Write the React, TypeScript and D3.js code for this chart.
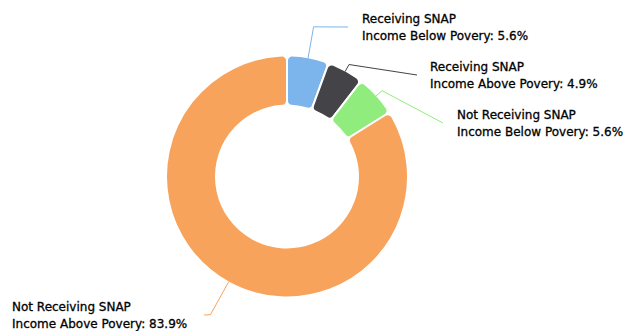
import * as d3 from 'd3';
import { useEffect, useRef } from 'react';

const snapStatus = ['Receiving SNAP', 'Receiving SNAP', 'Not Receiving SNAP', 'Not Receiving SNAP'];
const incomeGroup = ['Income Below Povery', 'Income Above Povery', 'Income Below Povery', 'Income Above Povery'];
const shares = [5.6, 4.9, 5.6, 83.9];
const sliceColors = ['#7cb5ec', '#434348', '#90ed7d', '#f7a35c'];

// label placement: radial length of first connector segment, end of connector, text x
const labelLayout = [
  { kink: 32, end: [348, 27], textX: 362 },
  { kink: 8, end: [417, 75], textX: 430 },
  { kink: 8, end: [443, 123], textX: 457 },
  { kink: 38, end: [204, 315], textX: 12 },
];

interface Slice {
  status: string;
  income: string;
  value: number;
  color: string;
}

const slices: Slice[] = shares.map((v, i) => ({
  status: snapStatus[i],
  income: incomeGroup[i],
  value: v,
  color: sliceColors[i],
}));

const App = () => {
  const svgRef = useRef<SVGSVGElement | null>(null);

  useEffect(() => {
    if (!svgRef.current) return;

    const width = 626;
    const height = 331;
    const cx = 287;
    const cy = 176.5;
    const outer = 121;
    const inner = 71;

    const svg = d3.select(svgRef.current)
      .html('')
      .attr('width', width)
      .attr('height', height);

    const g = svg.append('g')
      .attr('transform', `translate(${cx},${cy})`);

    const pie = d3.pie<Slice>()
      .sort(null)
      .value(d => d.value);

    const arc = d3.arc<d3.PieArcDatum<Slice>>()
      .innerRadius(inner)
      .outerRadius(outer)
      .cornerRadius(5);

    const arcs = pie(slices);

    g.selectAll('path.slice')
      .data(arcs)
      .enter().append('path')
      .attr('class', 'slice')
      .attr('d', arc)
      .attr('fill', d => d.data.color)
      .attr('stroke', '#fff')
      .attr('stroke-width', 2)
      .attr('stroke-linejoin', 'round');

    // connectors + labels
    const pointAt = (angle: number, r: number) => [r * Math.sin(angle), -r * Math.cos(angle)];

    arcs.forEach((d, i) => {
      const lay = labelLayout[i];
      const mid = (d.startAngle + d.endAngle) / 2;
      const start = pointAt(mid, outer - 1);
      const kink = pointAt(mid, outer - 1 + lay.kink);
      const end = [lay.end[0] - cx, lay.end[1] - cy];

      g.append('polyline')
        .attr('points', [start, kink, end].map(p => p.join(',')).join(' '))
        .attr('fill', 'none')
        .attr('stroke', d.data.color)
        .attr('stroke-width', 1);

      const text = svg.append('text')
        .attr('x', lay.textX)
        .attr('y', lay.end[1] - 4)
        .attr('fill', '#000')
        .attr('stroke', '#000')
        .attr('stroke-width', 0.3)
        .style('font-family', '"DejaVu Sans", sans-serif')
        .style('font-size', '12px');

      text.append('tspan')
        .attr('x', lay.textX)
        .text(d.data.status);

      text.append('tspan')
        .attr('x', lay.textX)
        .attr('dy', 17)
        .text(`${d.data.income}: ${d.data.value}%`);
    });
  }, []);

  return (
    <svg
      ref={svgRef}
      style={{ position: 'absolute', left: 0, top: 0, background: '#fff' }}
    />
  );
};

export default App;
